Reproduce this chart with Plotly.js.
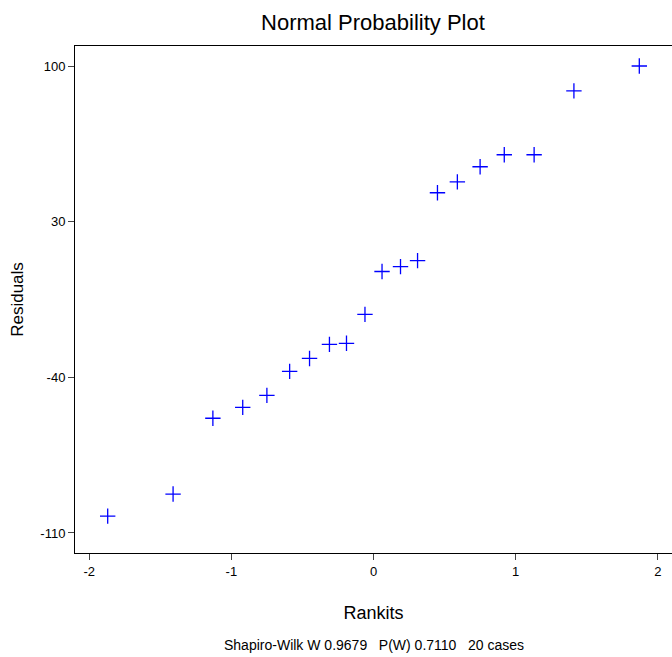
<html><head><script src="https://cdn.plot.ly/plotly-3.0.1.min.js"></script></head><body style="margin:0">
<div id="c" style="width:672px;height:657px"></div>
<script>
const rankits=[-1.87,-1.41,-1.13,-0.92,-0.75,-0.59,-0.45,-0.31,-0.19,-0.06,0.06,0.19,0.31,0.45,0.59,0.75,0.92,1.13,1.41,1.87];
const residuals=[-102.4,-92.5,-58.4,-53.5,-48.1,-37.3,-31.5,-25.2,-24.7,-11.7,7.6,9.8,12.5,43.0,47.9,54.7,60.1,60.1,88.8,100];
const xTicks=[-2,-1,0,1,2], xLabels=['-2','-1','0','1','2'];
const yTicks=[-110,-40,30,100], yLabels=['-110','-40','30','100'];
const fnt={family:"Liberation Sans Narrow, Liberation Sans",color:"#000"};
Plotly.newPlot('c',[{x:rankits,y:residuals,mode:'markers',type:'scatter',
 marker:{symbol:'cross-thin',size:11,line:{color:'#0000ff',width:1.3}}}],
{width:672,height:657,margin:{l:75,r:0,t:46,b:104},paper_bgcolor:'#fff',plot_bgcolor:'#fff',showlegend:false,
 title:{text:'Normal Probability Plot',x:0.555,y:0.966,yanchor:'middle',font:{...fnt,size:22}},
 xaxis:{range:[-2.1,2.1],tickvals:xTicks,ticktext:xLabels,ticks:'outside',ticklen:6,showgrid:false,zeroline:false,
  showline:true,mirror:true,linecolor:'#000',tickfont:{...fnt,size:13},
  title:{text:'Rankits',font:{...fnt,size:18},standoff:28}},
 yaxis:{range:[-119,109],tickvals:yTicks,ticktext:yLabels,ticks:'outside',ticklen:6,showgrid:false,zeroline:false,
  showline:true,mirror:true,linecolor:'#000',tickfont:{...fnt,size:13},
  title:{text:'Residuals',font:{family:'Liberation Sans',size:17,color:'#000'},standoff:12}},
 annotations:[{text:'Shapiro-Wilk W 0.9679   P(W) 0.7110   20 cases',xref:'paper',yref:'paper',x:0.5,y:-0.181,yanchor:'middle',showarrow:false,font:{...fnt,size:14}}]
},{displayModeBar:false});
</script></body></html>
